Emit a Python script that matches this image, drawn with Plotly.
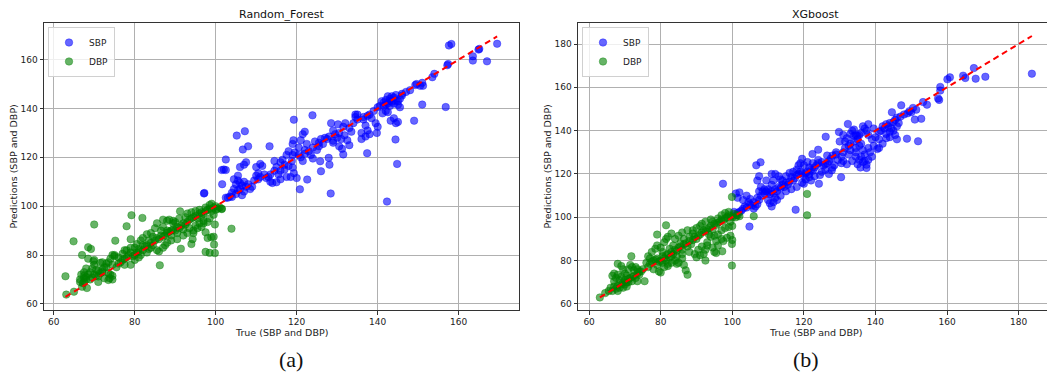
import plotly.graph_objects as go

# ---------------- data (true, predicted) ----------------
rf_sbp = [(158.2,166.4),(157.6,165.8),(169.5,166.5),(163.5,161.4),(163.5,159.6),(164.9,164.1),(165.1,164.4),(167,159.3),
(157.2,157.7),(157.4,158.2),(156.8,140.6),(151,141.6),(149,135),(142.3,101.9),(144.8,117.3),(144.4,127.3),(137.4,121.7),
(128.4,105.2),(120.8,106.9),(122.6,110.9),(119.3,135.4),(123.9,137.2),(105.2,128.9),(107.2,130.7),(102.5,119.1),(97.1,105.2),
(97.2,105.4),(106.7,123.2),(108,124.5),(113.3,124.5),(125.8,118.4),(127.9,119.8),(128.1,117),(126,114.3),
(153.5,152.8),(154,154.2),(149.3,149.6),(149.6,150),(150.5,149.3),(151,150.5),(151.2,149.3),(147,146.8),(146,145.3),(145.5,144),
(144,144.5),(143,144),(142,143.5),(141.5,142.5),(141,143),(142.5,142),(143.5,142.8),(144.5,143.2),(145,141.5),(145.5,140.5),
(142,139),(141.2,138),(142.5,138.5),(144,136),(144.5,134),(145,134.5),(143.2,135),(140,140.5),(139,139),(138.5,136),(137.5,137),
(136.5,135.5),(137,133),(137.5,131),(136,130),(138,129.5),(137,128.5),(136,127.5),(139.5,134),(140,132.5),(139.8,130),(135,135.5),
(134.5,136.5),(134,134),(133,132),(132,134),(131.5,132.5),(130.5,130),(131,127.5),(132.5,127),(130,128),(129,126.8),(130.2,133.5),
(131.8,129),(129.5,129.5),(128.5,134),(133.5,130.5),(131.2,123.5),(131.5,121.2),(129,131),(127,128),(126,127.5),(125.5,126),
(124.5,126.5),(124,124),(125,123),(123,122.5),(122,123),(122.5,125.5),(121,127),(121.5,129.5),(122,130.5),(120.5,124),(119.5,122),
(119,121),(118.8,118.5),(119,125.5),(119.2,127),(119,115.8),(119.3,113.5),(118.5,112),(120,111.5),(121.5,118.5),(118,116.5),
(117,117),(116.5,119),(116,118),(115,116),(114.5,114.5),(117.5,121),(118,122.5),(113.5,113),(113,112),(112.5,111.5),(112,113),
(111,112),(110.5,111),(110,112.5),(109.5,110.5),(111.5,116.5),(111,117.3),(113.5,110),(114,109.5),(114.5,118.5),(109,108),
(108,109),(107.5,108),(107,110),(106.5,108.5),(106,109.5),(105.5,110.5),(105,109),(104.5,107),(104,105.5),(103.5,104),
(102.5,103.5),(103,103.5),(105,105),(104,103.8),(106,107),(107,106),(105.5,106.5),(106.5,104.5),(108.5,107),(101.5,114.8),
(102,115),(102.5,114.8),(101.6,109),(104.5,111),(105.5,112.5),(106,116),(107,117),(107.5,118),(110,116),(115.5,113),(116,111),
(115,109.8),(117.5,112),(110.5,113.5),(120.5,121),(121,120),(122,121.5),(123.5,121),(124,119.5),(117,115),(116,114.5),
(125.5,124.5),(126.5,125.5),(127.5,127.5),(128,128.5),(134.5,137.5),(135,137.5),(136.5,136.5),(138,137.5),(141.5,141),
(142,141.5),(143,141),(144,142),(145,143),(143,143.2),(142.5,145),(143.5,145),(144.5,145.5),(140.5,141),(146,146),(148,147.5),
(129,126),(130.5,124.5),(133,125)]

rf_dbp = [(62.9,71.3),(63.1,63.8),(64.9,85.6),(65,65),(70,92.5),(68.5,83.2),(69.2,82.5),(75.2,85.9),(78,91.8),(79.2,96.3),
(81.9,95.2),(86.2,75.8),(91.2,97.9),(91.4,82.6),(99.8,80.8),(98.5,80.9),(97.5,81.3),(103.9,90.8),(97.5,89.3),(99.6,84.3),
(98.9,87.3),(99.5,87.5),(99.8,92.5),(98,87),(94,84.5),(94.3,86.5),(96.5,96),(67,80),(68.5,78.5),(67.5,69),(67,67),(67.5,70.5),
(68,71),(68.5,72),(69,70),(69.5,70.8),(70,72),(70.5,71.5),(71,71.2),(71.5,72.5),(72,73),(72.5,75),(73,76.5),(73.5,77),(74,78.5),
(74.5,80),(75,79.5),(71.5,76.8),(72,77),(73.5,72.5),(74,72),(74.5,71.5),(73.5,69.8),(70,78),(69.8,77.5),(70,76),(69.5,74.5),
(71,69),(72.5,70.5),(67.5,73),(68,74.5),(66.8,72),(66.5,70),(67.2,68.5),(68.2,66.5),(75.5,75),(76,76.5),(76.5,77),(77,78),
(77.5,78.5),(78,79),(78.5,80),(79,81),(79.5,79.5),(80,80),(80.5,81),(81,81.5),(81.5,80),(82,82),(82.5,83.5),(83,84),(83.5,82.5),
(84,85),(84.5,84),(85,86),(85.5,87),(86,86.5),(86.5,88),(87,87.5),(87.5,88),(88,89),(88.5,89.5),(89,90),(89.5,90.5),(90,90),
(90.5,91.5),(91,91),(91.5,92),(92,93),(92.5,92.5),(93,93.5),(93.5,94.5),(94,95),(94.5,95.5),(95,96),(95.5,95),(96,97),(96.5,97.5),
(97,97),(97.5,98),(98,98.5),(98.5,99),(99,98),(99.5,99.5),(100,100),(100.5,99),(101,99.5),(101.5,99),(101.5,98.8),(97,94),(96,93),
(95,92),(94.5,90),(93,89),(92,88),(90.5,89),(89,86),(88,85),(87,83),(85.5,82),(84,83),(83,81),(81,79),(80,78),(79,76),(77.5,76),
(79,83),(80.5,84.5),(81.5,86),(82,87),(83,88.5),(84,89),(85,91),(85.5,93),(87,94.5),(88,94),(88.5,94.5),(89.5,94),(90,93.5),
(92.5,95.5),(93,97),(94,97.5),(95,98),(96,98.5),(97.5,99.5),(98.5,100.5),(99,101),(100,98.5),(99.5,96.5),(98.5,95),(98,93.5),
(97,93),(96.5,91.5),(95.5,91),(94.5,89),(86,81.5),(87.5,84),(89,88),(83.5,86),(82,84),(81,82.5),(76,79),(75,80),(74.5,76),(73,75),
(72,74),(71,73.5),(70.5,74),(69,73),(68,70),(67.5,71.5),(66.5,69),(79,86.5),(80,83),(78,82),(77,80.5),(77.5,82),(84.5,87.5),
(86.5,90),(87,91.5),(89.5,93),(91,95),(93.5,91),(92,90.5),(90.5,86.5),(88,90),(74.5,70),(73.8,70.5)]

xgb_sbp = [(183.7,166.3),(167.5,168.9),(164.5,165.4),(165.1,164.3),(168,164),(170.7,164.9),(160.1,163.7),(160.8,164.6),
(158.1,160.2),(158.1,158.5),(157.5,154.9),(157.8,154.2),(154.4,152),(153.3,153.2),(151.9,135.1),(148.8,136.3),(152.8,145.5),
(151,145.1),(151.4,149.7),(150.5,150.5),(147.2,151.7),(144.6,148.5),(132.3,143.1),(129.8,139.4),(126.1,137.2),(124,131.2),
(122.4,129.2),(124.2,115.5),(127.8,121.7),(130.4,118.5),(107.9,125.4),(106.7,124),(97.4,115.5),(104.8,95.7),(117.7,103.5),
(135.8,123),(137.5,122.8),(137.5,124.3),(146,146),(145.5,145),(145,144),(144,143.5),(143.5,142),(143,143),(142.5,141),(142,142),
(141.5,140),(141,139.5),(144.5,141),(145,140),(146,142),(146.5,143.5),(145.5,138),(146,136),(144,137),(143,136.5),(142,134),
(141,132),(140.5,131.5),(139.5,133),(140,137),(139,136),(138,138),(137.5,140),(137,141),(136.5,142),(138,143),(139.5,141),
(136,139),(135.5,138),(135,137.5),(134.5,138),(134,137.5),(135,136),(136,134),(135.5,133),(134.5,132),(136.5,131),(137,129),
(136,128),(135.5,126.5),(137,126),(138,126.5),(134.5,128),(134.5,130),(133,131),(132.5,133),(131.5,132),(131,130),(130.5,128),
(131,126),(132,124.5),(130.5,125),(129.5,126.5),(131.5,135),(132,136.5),(131,138),(133,138.5),(130,135),(129,130),(128,128.5),
(127.5,127),(127,126),(126.5,125),(126,124.5),(125.5,124),(125,125.5),(124,125),(123.5,124),(123,123),(122.5,121.5),(122,122),
(121.5,120),(121,121),(120.5,120.5),(120,119),(119.5,120.5),(119,121),(118.5,120),(118,119.5),(117.5,118),(117,117),
(116.5,118.5),(116,116.5),(115.5,115),(115,116),(114.5,114),(114,115),(113.5,113.5),(113,114),(112.5,112),(112,113),(111.5,111),
(111,112),(110.5,110.5),(110,111.5),(109.5,112),(109,111),(110,108),(110.5,106.5),(111,105),(111.5,107),(112,109),(111,115),
(111.5,117),(111,120),(112,120),(113,119),(113.5,117.5),(114,117),(115,119),(116,120.5),(117,121),(118,122),(118.5,124),(119,125),
(119.5,127),(120,124),(121,125.5),(119.5,116),(120,115.5),(120.5,117.5),(121.5,118.5),(122,117),(123,119),(124.5,119.5),(125,121),
(126,122),(127,120),(128,123),(128.5,124),(129,129),(126.5,128.5),(109,113),(108.5,112),(108,110),(107.5,108),(107,106),
(106.5,105),(106,104),(105.5,105.5),(105,106),(104.5,107),(104,104.5),(103.5,105),(103,104),(102.5,103),(102,102.5),(101.5,102),
(101,101),(100.5,102.5),(101,111),(102,111.5),(101.5,109),(103,108),(105,108.5),(106,107),(107,109),(107.5,112),(108,114),
(107,117),(107.5,119),(109.5,117),(110,113),(104,110),(118,114),(116.5,113),(115,112),(113.5,110),(112.5,108),(121.5,123),
(122.5,125),(124,126.5),(133,134),(134,135),(132.5,129),(133.5,126),(135,124.5),(136.5,125.5),(138,132),(139,128),(138.5,130),
(141,136),(143,138.5),(144,139.5),(147,146.5),(148,147.5),(149,148),(149.5,149),(150,148.5),(133.5,140),(134,140.5)]

xgb_dbp = [(63,63),(64.5,65),(65.5,66),(66,67.5),(66.5,66),(67,68),(67.5,67),(68,68.5),(68.5,67.5),(69,69),(69.5,70),(70,71),
(70.5,70),(71,71.5),(71.5,72),(72,72.5),(72.5,73),(73,72),(73.5,74),(74,73.5),(74.5,75),(75,76),(66.5,73),(67,74),(67.5,72),
(68,73.5),(68,78.5),(69,77.5),(69.5,76),(70,74),(70.5,73),(71,76),(71.5,78),(71.8,82),(72,77),(72.5,75.5),(73,77),(73.5,76),
(74,75),(68.5,71),(69,72.5),(70,69),(71,70),(72,70.5),(73.5,70.5),(75.5,70.5),(67,70.5),(68,66),(69.5,67.5),(70.5,68),(76,79),
(76.5,77),(77,78.5),(77.5,79.5),(78,80),(78.5,80.5),(79,81),(79.5,79.5),(80,80),(80.5,82),(81,81),(81.5,82.5),(82,83),(82.5,81.5),
(83,84),(83.5,83),(84,85),(84.5,84.5),(85,86),(85.5,86.5),(86,85),(86.5,87.5),(87,88),(87.5,86.5),(88,89),(88.5,87.5),(89,89.5),
(78,76),(79,78),(79.5,75),(80,74.5),(81,77),(82,78.5),(83,79),(84,80),(85,79),(86,81),(87,75.5),(87.5,73.5),(86.5,78),(84.5,78.5),
(78.5,85.5),(79,87),(80,86),(81,88.5),(81.5,90),(82,91),(83,92.5),(84,90),(85,91.5),(86,93),(87.5,94),(81.5,96.3),(79,92),
(77.5,84),(76.5,82),(77,81),(80.5,84),(82.5,85.5),(83.5,87),(85.5,88),(86.5,90),(88,91),(89,92.5),(89.5,91),(90,90),(90.5,91.5),
(91,92),(91.5,93),(92,94),(92.5,93.5),(93,94.5),(93.5,95),(94,96),(94.5,94.5),(95,97),(95.5,96.5),(96,97.5),(96.5,98),(97,99),
(97.5,98.5),(98,99.5),(98.5,100),(99,101),(99.5,100.5),(100,100),(100.5,101.5),(101,100),(101.5,101),(102,100.5),(98,102),
(99,102.5),(99.5,98),(100,96),(99,95.5),(98,95),(97,94),(96,92),(95,91.5),(94,91),(93,87),(92.5,85),(92,83),(91,82.5),(90,81.5),
(89.5,83),(90.5,85),(91.5,86.5),(92.5,80),(93,88.5),(94.5,86),(95,84),(95.5,83.5),(96,87),(97,90),(97.5,89),(98.5,90.5),
(99.5,91.5),(100,89.5),(89,94),(90,95),(91,96),(91.5,97),(92.5,98),(94,99),(94.5,98),(96,99.5),(97,101),(99.9,109.4),(99.9,77.7),
(99.9,87.7),(97.2,84.3),(106,100.5),(120.9,110.8),(120.9,100.9),(95.5,89),(93.5,92),(88,84),(86,83),(84.5,82),(83,82),(81.5,80),
(80.5,79),(82,77.5)]

titles = ["Random_Forest", "XGboost"]
captions = ["(a)", "(b)"]
x_label = "True (SBP and DBP)"
y_label = "Predictions (SBP and DBP)"
rf_ticks_x = [60, 80, 100, 120, 140, 160]
rf_ticks_y = [60, 80, 100, 120, 140, 160]
xgb_ticks_x = [60, 80, 100, 120, 140, 160, 180]
xgb_ticks_y = [60, 80, 100, 120, 140, 160, 180]

# ---------------- figure ----------------
W, H = 1055, 372
fig = go.Figure()

BLUE = "rgba(0,0,255,0.6)"
GREEN = "rgba(0,128,0,0.6)"

panels = [
    dict(sbp=rf_sbp, dbp=rf_dbp, xa="x", ya="y", legend="legend"),
    dict(sbp=xgb_sbp, dbp=xgb_dbp, xa="x2", ya="y2", legend="legend2"),
]

for p in panels:
    sx, sy = zip(*p["sbp"])
    dx, dy = zip(*p["dbp"])
    fig.add_trace(go.Scatter(x=sx, y=sy, mode="markers", name="SBP", xaxis=p["xa"], yaxis=p["ya"],
                             legend=p["legend"],
                             marker=dict(color=BLUE, size=7.5, line=dict(width=0.6, color=BLUE))))
    fig.add_trace(go.Scatter(x=dx, y=dy, mode="markers", name="DBP", xaxis=p["xa"], yaxis=p["ya"],
                             legend=p["legend"],
                             marker=dict(color=GREEN, size=7.5, line=dict(width=0.6, color=GREEN))))
    all_true = list(sx) + list(dx)
    lo, hi = min(all_true), max(all_true)
    fig.add_trace(go.Scatter(x=[lo, hi], y=[lo, hi], mode="lines", showlegend=False,
                             xaxis=p["xa"], yaxis=p["ya"],
                             line=dict(color="red", width=2, dash="6px,4px")))

# plot area domains (pixels)
L1, R1 = 36, 511
L2, R2 = 570, 1045
TOP, BOT = 15, 302
yd = [1 - BOT / H, 1 - TOP / H]

axis_common = dict(showline=True, linecolor="#333333", linewidth=1, mirror=True,
                   showgrid=True, gridcolor="#b0b0b0", gridwidth=1, zeroline=False,
                   ticks="outside", ticklen=3.5, tickcolor="#333333", tickwidth=1,
                   tickfont=dict(family="DejaVu Sans", size=9, color="#222222"))

legend_common = dict(xanchor="left", yanchor="top",
                     bgcolor="rgba(255,255,255,0.8)", bordercolor="#d0d0d0", borderwidth=1,
                     font=dict(family="DejaVu Sans", size=9, color="#222222"),
                     itemsizing="trace", tracegroupgap=0, itemwidth=30)

fig.update_layout(
    width=W, height=H, margin=dict(l=0, r=0, t=0, b=0),
    paper_bgcolor="white", plot_bgcolor="white",
    xaxis=dict(domain=[L1 / W, R1 / W], range=[57.6, 174.9], tickvals=rf_ticks_x, anchor="y", **axis_common),
    yaxis=dict(domain=yd, range=[57.5, 175.0], tickvals=rf_ticks_y, anchor="x", **axis_common),
    xaxis2=dict(domain=[L2 / W, R2 / W], range=[56.9, 189.6], tickvals=xgb_ticks_x, anchor="y2", **axis_common),
    yaxis2=dict(domain=yd, range=[57.2, 189.7], tickvals=xgb_ticks_y, anchor="x2", **axis_common),
    legend=dict(x=(L1 + 4) / W, y=1 - (TOP + 4) / H, **legend_common),
    legend2=dict(x=(L2 + 4) / W, y=1 - (TOP + 4) / H, **legend_common),
    showlegend=True,
)

anns = []
for i, (L, R) in enumerate([(L1, R1), (L2, R2)]):
    cx = (L + R) / 2 / W
    anns.append(dict(text=titles[i], x=cx, y=1 - 7 / H, xref="paper", yref="paper",
                     showarrow=False, font=dict(family="DejaVu Sans", size=11, color="#111111"),
                     xanchor="center", yanchor="middle"))
    anns.append(dict(text=x_label, x=cx, y=1 - 324 / H, xref="paper", yref="paper",
                     showarrow=False, font=dict(family="DejaVu Sans", size=9.5, color="#222222"),
                     xanchor="center", yanchor="middle"))
    anns.append(dict(text=y_label, x=(L - 31) / W, y=(yd[0] + yd[1]) / 2, xref="paper", yref="paper",
                     showarrow=False, textangle=-90, font=dict(family="DejaVu Sans", size=9.5, color="#222222"),
                     xanchor="center", yanchor="middle"))
    anns.append(dict(text=captions[i], x=(283 if i == 0 else 798) / W, y=1 - 351 / H, xref="paper", yref="paper",
                     showarrow=False, font=dict(family="Liberation Serif", size=22, color="#111111"),
                     xanchor="center", yanchor="middle"))
fig.update_layout(annotations=anns)

fig.write_html("out.html")
